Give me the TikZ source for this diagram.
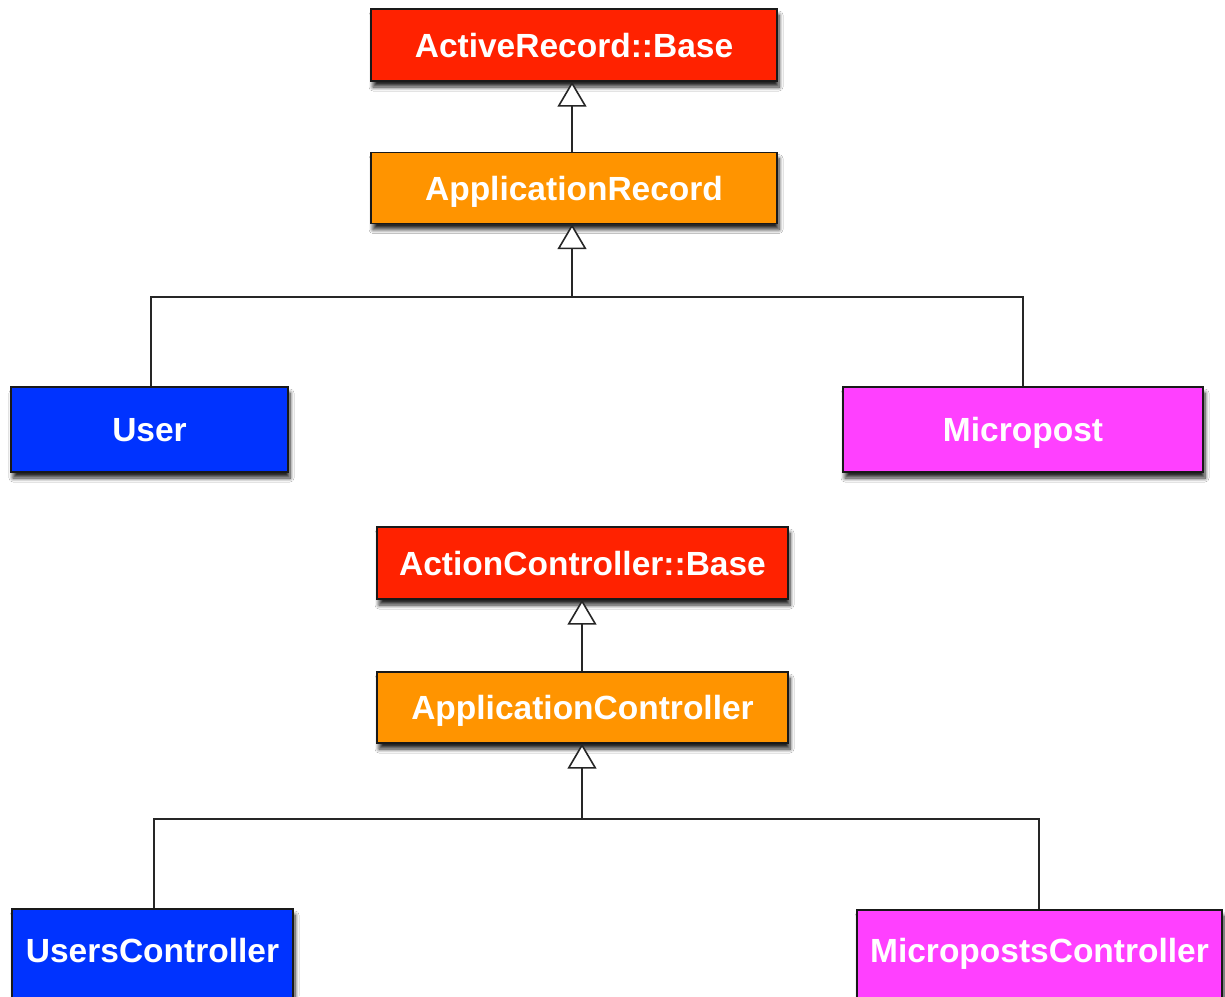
\documentclass[tikz,border=0pt]{standalone}
\usepackage{fontspec}
\setmainfont{Liberation Sans}
\usetikzlibrary{arrows.meta,shadows.blur}
\definecolor{baseRed}{RGB}{255,34,0}
\definecolor{appOrange}{RGB}{255,148,0}
\definecolor{leafBlue}{RGB}{0,51,255}
\definecolor{leafPink}{RGB}{255,64,255}
\tikzset{
  label text/.style={text=white, font=\bfseries\fontsize{33.5}{38}\selectfont,
    text height=24pt, text depth=0pt},
  cls/.style={label text, draw=black!90, line width=1.4pt, inner sep=0pt,
    blur shadow={shadow xshift=2pt, shadow yshift=-6pt, shadow blur radius=4pt,
      shadow blur steps=8, shadow opacity=85}},
  link/.style={draw=black!85, line width=1.6pt},
  inherit/.style={link, -{Triangle[width=29pt, length=25pt, fill=white, line width=1.6pt]}}
}
\begin{document}
\begin{tikzpicture}[x=1pt, y=-1pt]
\clip (0,0) rectangle (1225,996);
\fill[white] (0,0) rectangle (1225,996);

% model hierarchy
\node[cls, fill=baseRed, minimum width=406pt, minimum height=72pt] (arb) at (574,45) {ActiveRecord::Base};
\node[cls, fill=appOrange, minimum width=406pt, minimum height=71pt] (apr) at (574,188) {ApplicationRecord};
\node[cls, fill=leafBlue, minimum width=277pt, minimum height=85pt] (user) at (149.5,429.5) {User};
\node[cls, fill=leafPink, minimum width=360pt, minimum height=85pt] (mp) at (1023,429.5) {Micropost};
\coordinate (mj) at (572,297);

\draw[inherit] (apr.north -| 572,0) -- (arb.south -| 572,0);
\draw[link] (user.north -| 151,0) |- (mj) -| (mp.north -| 1023,0);
\draw[inherit] (mj) -- (apr.south -| 572,0);

% controller hierarchy
\node[cls, fill=baseRed, minimum width=411pt, minimum height=72pt] (acb) at (582.5,563) {ActionController::Base};
\node[cls, fill=appOrange, minimum width=411pt, minimum height=71pt] (apc) at (582.5,707.5) {ApplicationController};
\node[cls, fill=leafBlue, minimum width=281pt, minimum height=110pt] (uc) at (152.5,964) {};
\node[cls, fill=leafPink, minimum width=365pt, minimum height=110pt] (mc) at (1039.5,965) {};
\node[label text] (uct) at (uc.center |- 0,950) {UsersController};
\node[label text] (mct) at (mc.center |- 0,950) {MicropostsController};
\coordinate (cj) at (582,819);

\draw[inherit] (apc.north -| 582,0) -- (acb.south -| 582,0);
\draw[link] (uc.north -| 154,0) |- (cj) -| (mc.north -| 1039,0);
\draw[inherit] (cj) -- (apc.south -| 582,0);
\end{tikzpicture}
\end{document}
